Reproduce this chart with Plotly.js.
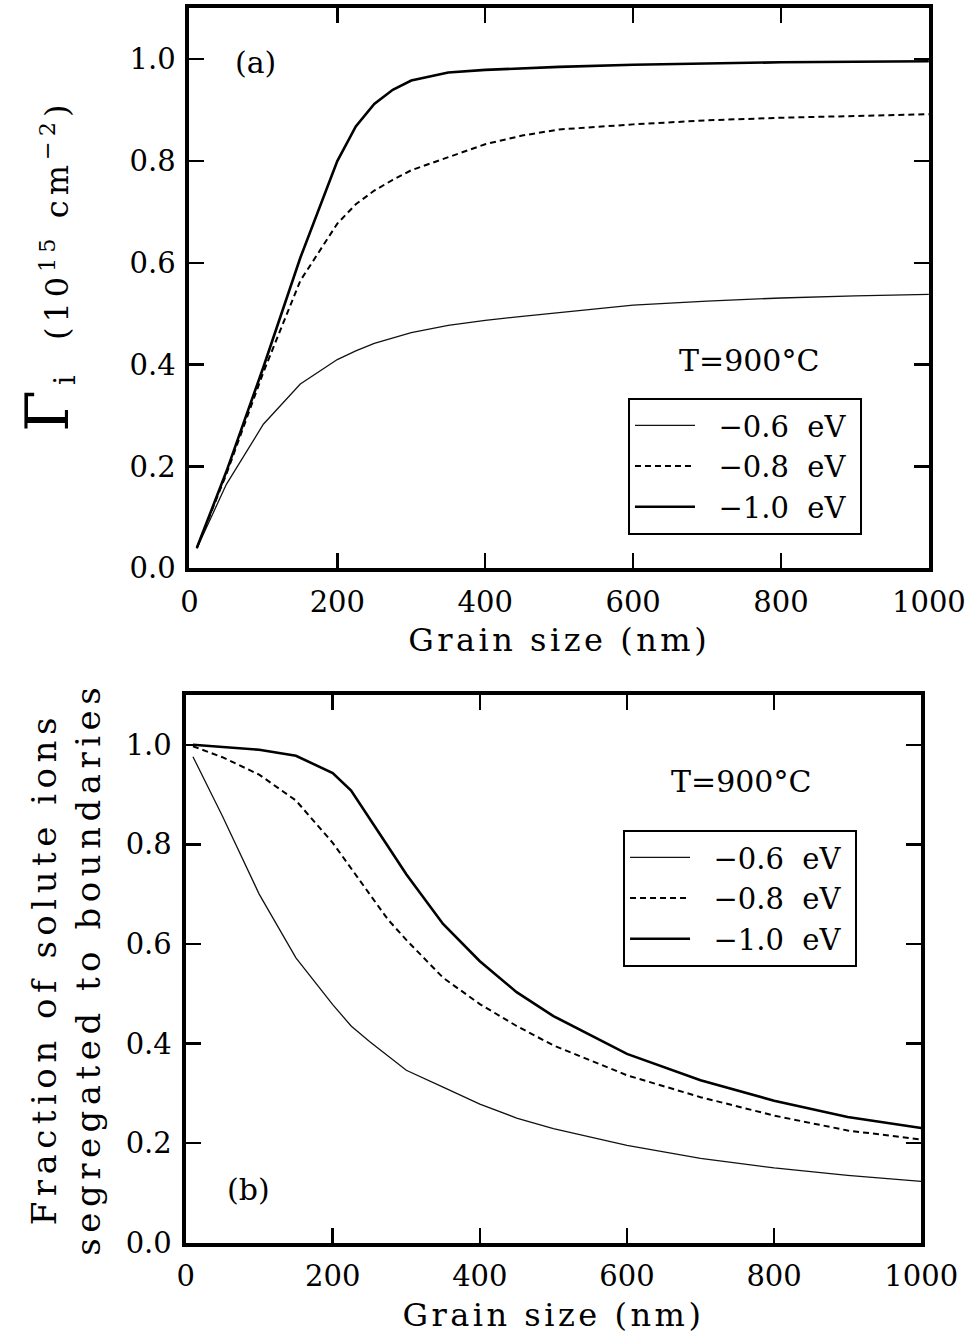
<!DOCTYPE html>
<html><head><meta charset="utf-8">
<script src="https://cdn.plot.ly/plotly-3.0.1.min.js"></script>
<style>
html,body{margin:0;padding:0;background:#fff;}
#chart{width:970px;height:1344px;}
.xtitle,.x2title{letter-spacing:3.5px;}
.y2title{letter-spacing:5.5px;}
.ytitle{letter-spacing:5px;}
</style></head><body><div id="chart"></div>
<script>
// ---- data ----
const grainSize = [10,50,100,150,200,225,250,275,300,350,400,450,500,600,700,800,900,1000];
const energyLabels = ['\u00a0\u00a0\u22120.6\u00a0 eV\u00a0','\u00a0\u00a0\u22120.8\u00a0 eV\u00a0','\u00a0\u00a0\u22121.0\u00a0 eV\u00a0'];
// (a) Gamma_i (1e15 cm^-2)
const gammaE06 = [0.039,0.165,0.283,0.362,0.410,0.427,0.442,0.453,0.463,0.477,0.487,0.495,0.502,0.517,0.525,0.531,0.535,0.538];
const gammaE08 = [0.040,0.185,0.385,0.565,0.677,0.715,0.742,0.763,0.782,0.808,0.833,0.850,0.862,0.872,0.880,0.885,0.889,0.892];
const gammaE10 = [0.040,0.190,0.395,0.610,0.800,0.868,0.912,0.940,0.958,0.974,0.979,0.982,0.985,0.989,0.992,0.994,0.995,0.996];
// (b) fraction segregated
const fracE06 = [0.976,0.857,0.700,0.572,0.478,0.435,0.404,0.375,0.346,0.312,0.278,0.250,0.229,0.195,0.169,0.150,0.135,0.123];
const fracE08 = [0.997,0.975,0.940,0.888,0.803,0.751,0.700,0.649,0.608,0.532,0.479,0.435,0.396,0.336,0.292,0.255,0.225,0.207];
const fracE10 = [1.000,0.996,0.990,0.978,0.943,0.908,0.853,0.796,0.740,0.640,0.565,0.503,0.455,0.379,0.326,0.285,0.252,0.230];
const xTicks = [0,200,400,600,800,1000];
const yTicks = [0,0.2,0.4,0.6,0.8,1.0];
const yTickText = ['0.0','0.2','0.4','0.6','0.8','1.0'];

const FONT = '"DejaVu Serif", serif';
const styles = [
  {color:'#111', width:1.3},
  {color:'#000', width:2, dash:'6px,4px'},
  {color:'#000', width:2.6}
];
const topSeries = [gammaE06, gammaE08, gammaE10];
const botSeries = [fracE06, fracE08, fracE10];
const traces = [];
topSeries.forEach((s,i)=>traces.push({x:grainSize,y:s,type:'scatter',mode:'lines',name:energyLabels[i],
  line:styles[i],xaxis:'x',yaxis:'y',legend:'legend'}));
botSeries.forEach((s,i)=>traces.push({x:grainSize,y:s,type:'scatter',mode:'lines',name:energyLabels[i],
  line:styles[i],xaxis:'x2',yaxis:'y2',legend:'legend2'}));

const axisCommon = {
  showline:true, linecolor:'#000', linewidth:4, mirror:'ticks',
  ticks:'inside', ticklen:15, tickwidth:2.5, tickcolor:'#000',
  showgrid:false, zeroline:false, fixedrange:true,
  tickfont:{family:FONT,size:29,color:'#000'}
};
const xCommon = Object.assign({}, axisCommon, {range:[0,1000], tickvals:xTicks, ticktext:xTicks.map(String), ticklabelstandoff:5,
  title:{text:'Grain size (nm)', font:{family:FONT,size:32,color:'#000'}, standoff:12}});
const yCommon = Object.assign({}, axisCommon, {range:[0,1.1], tickvals:yTicks, ticktext:yTickText, ticklabelstandoff:4});

const legendCommon = {bgcolor:'#fff', bordercolor:'#000', borderwidth:2, xanchor:'left', yanchor:'top',
  font:{family:FONT,size:29,color:'#000'}, itemwidth:60, tracegroupgap:0};

const layout = {
  width:970, height:1344, paper_bgcolor:'#fff', plot_bgcolor:'#fff',
  margin:{l:0,r:0,t:0,b:0}, showlegend:true,
  xaxis:Object.assign({}, xCommon, {domain:[0.19526,0.95763], anchor:'y'}),
  yaxis:Object.assign({}, yCommon, {domain:[0.57716,0.99382], anchor:'x',
    title:{text:'\u200b\u00a0\u00a0\u00a0<span style="font-size:60px">\u0393</span><sub><span style="font-size:30px">i</span></sub>\u00a0\u00a0(10<sup>15</sup>\u00a0cm<sup>\u22122</sup>)', font:{family:FONT,size:32,color:'#000'}, standoff:52}}),
  xaxis2:Object.assign({}, xCommon, {domain:[0.19134,0.94969], anchor:'y2'}),
  yaxis2:Object.assign({}, yCommon, {domain:[0.07552,0.48289], anchor:'x2',
    title:{text:'Fraction of solute ions<br>segregated to boundaries', font:{family:FONT,size:34,color:'#000'}, standoff:16}}),
  legend:Object.assign({}, legendCommon, {x:0.6474, y:0.7039}),
  legend2:Object.assign({}, legendCommon, {x:0.6423, y:0.3824}),
  annotations:[
    {xref:'x',yref:'y',x:89,y:0.994,text:'(a)',showarrow:false,font:{family:FONT,size:30,color:'#000'}},
    {xref:'x',yref:'y',x:757,y:0.408,text:'T=900\u00b0C',showarrow:false,font:{family:FONT,size:30,color:'#000'}},
    {xref:'x2',yref:'y2',x:85,y:0.107,text:'(b)',showarrow:false,font:{family:FONT,size:30,color:'#000'}},
    {xref:'x2',yref:'y2',x:755,y:0.927,text:'T=900\u00b0C',showarrow:false,font:{family:FONT,size:30,color:'#000'}}
  ]
};
Plotly.newPlot('chart', traces, layout, {staticPlot:true, displayModeBar:false});
</script></body></html>
